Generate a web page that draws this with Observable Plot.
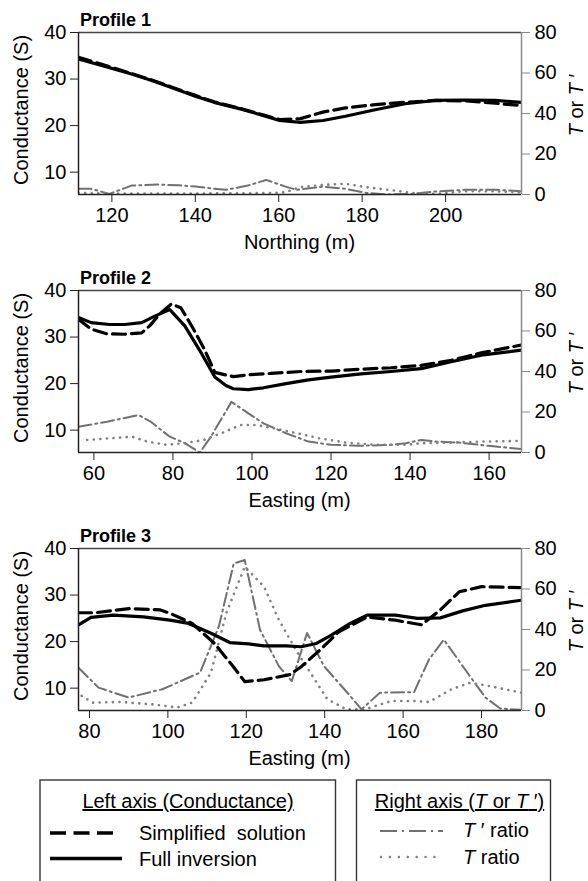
<!DOCTYPE html>
<html><head><meta charset="utf-8">
<script src="https://cdn.jsdelivr.net/npm/d3@7"></script>
<script src="https://cdn.jsdelivr.net/npm/@observablehq/plot@0.6"></script>
<style>
body{margin:0;background:#fff;font-family:"Liberation Sans",Arial,sans-serif;}
#chart{width:588px;height:881px;overflow:hidden;}
#chart svg{display:block;}
</style></head><body><div id="chart"></div><script>
// ---------- data ----------
const panelTitles = ["Profile 1", "Profile 2", "Profile 3"];
const xTitles = ["Northing (m)", "Easting (m)", "Easting (m)"];
const xDomains = [[112, 218.2], [56.1, 168.2], [77.2, 190.2]];
const xTickLabels = [[120, 140, 160, 180, 200], [60, 80, 100, 120, 140, 160], [80, 100, 120, 140, 160, 180]];
const leftTicks = [10, 20, 30, 40];
const rightTicks = [0, 20, 40, 60, 80];
const condDomain = [5.2, 40];
const ratioDomain = [0, 80];

// Profile 1: [northing, conductance] and [northing, ratio]
const p1Simplified = [[112,34.7],[120.3,32.4],[124.7,31.2],[129.2,29.9],[134.6,28.2],[140,26.5],[144.5,25.1],[150.8,23.7],[156.2,22.3],[160.2,21.3],[165.2,21.5],[170.6,22.9],[176,23.8],[183.1,24.5],[190.3,25.0],[197.5,25.4],[204.7,25.3],[211.9,24.8],[218.2,24.3]];
const p1Full = [[112,34.3],[120.3,32.2],[124.7,31.1],[129.2,29.8],[134.6,28.1],[140,26.3],[144.5,25.0],[150.8,23.6],[156.2,22.2],[160.2,21.1],[165.2,20.7],[170.6,21.1],[176,22.0],[183.1,23.4],[190.3,24.7],[197.5,25.4],[204.7,25.5],[211.9,25.4],[218.2,25.0]];
const p1TPrime = [[112,2.8],[115,2.8],[119.4,0.3],[124.7,4.4],[131,4.9],[136,4.6],[140,3.9],[147.2,2.3],[152.6,4.4],[157,7.2],[161.6,3.9],[164.3,2.3],[170.5,3.9],[176,2.8],[181.3,0.7],[186,0],[192,0.3],[197.5,1.5],[204.7,2.3],[212,2.3],[218.2,1.6]];
const p1T = [[112,0.7],[120,0.5],[130,0.5],[140,0.5],[150,0.6],[158,0.7],[161.6,1.1],[165,3.6],[171,4.8],[176,5.3],[181,3.6],[187.5,2.0],[192,0.7],[197.5,0.3],[204.7,1.6],[212,1.6],[218.2,1.1]];

// Profile 2
const p2Simplified = [[56.1,33.8],[59.3,31.7],[63.3,30.7],[67.8,30.6],[72.1,30.9],[74.1,32.4],[76.6,34.9],[79.6,37.1],[82,36.3],[85,32.0],[88,27.3],[90.6,22.4],[95.3,21.5],[99.1,21.9],[104.8,22.2],[112.4,22.6],[120,22.7],[127.6,23.1],[135.2,23.4],[142.8,23.9],[150.4,25.0],[158,26.6],[168.2,28.3]];
const p2Full = [[56.1,34.2],[59.3,33.1],[64,32.7],[67.8,32.7],[72.1,33.1],[75.4,34.5],[79.2,35.9],[83,32.4],[86.8,27.1],[90.6,21.4],[93.4,19.6],[95.3,18.9],[99.1,18.7],[102.9,19.1],[108.6,20.0],[114.3,20.8],[120,21.4],[127.6,22.1],[135.2,22.6],[142.8,23.2],[150.4,24.7],[158,26.1],[168.2,27.2]];
const p2TPrime = [[56.1,12.7],[63.3,15.2],[71.3,18.5],[74.4,15.2],[79.2,7.8],[83,4.6],[86.8,0],[89.6,7.8],[94.8,25.0],[99.1,19.3],[102.9,14.4],[108.6,9.5],[114.3,5.4],[120,3.8],[127.6,3.3],[135.2,3.8],[139,4.6],[142.8,6.2],[146.6,5.4],[152.3,4.9],[159.9,3.3],[168.2,1.7]];
const p2T = [[58.3,6.2],[64,7.0],[69.7,7.8],[73.5,5.4],[78.3,3.8],[83,4.6],[87.8,6.2],[92.6,9.8],[97.2,13.6],[101,13.6],[105.7,11.9],[111.4,9.5],[117.1,7.0],[123.8,4.9],[131.4,3.8],[139,3.8],[142.8,4.6],[150.4,4.9],[158,5.4],[168.2,5.7]];

// Profile 3
const p3Simplified = [[77.2,26.2],[81.5,26.2],[90.1,27.1],[98.1,26.8],[100.5,26.1],[106.2,23.9],[111.9,19.6],[116.7,14.6],[119.6,11.4],[124.5,11.8],[131.1,12.9],[134,14.6],[138.8,18.2],[143.6,22.1],[150.8,25.3],[158,24.6],[164.7,23.6],[169.5,26.8],[174.3,30.7],[180,31.8],[190.2,31.6]];
const p3Full = [[77.2,23.6],[80.4,25.2],[86.1,25.7],[93.8,25.3],[100.5,24.6],[105.3,23.9],[111,21.8],[115.8,19.8],[120.6,19.5],[124.5,19.1],[130.2,19.1],[134,18.9],[137.9,19.6],[141.7,21.4],[146.5,23.9],[150.8,25.7],[158,25.7],[163.7,25.0],[169.5,25.1],[175.2,26.6],[181,27.8],[190.2,28.9]];
const p3TPrime = [[77.2,21.1],[82.3,11.3],[90,6.4],[98.6,10.5],[108.2,18.7],[113,41.5],[116.8,72.6],[119.6,74.3],[123.5,39.9],[128.3,21.9],[131.6,14.5],[135.5,38.3],[139.8,21.9],[146.5,7.2],[149.4,0.6],[154.1,8.8],[162.8,9.1],[166.6,25.2],[170.4,35.0],[175.2,21.9],[181,6.4],[184.8,1.0],[190.2,0.3]];
const p3T = [[78,7.2],[80.9,3.9],[88,4.2],[95.7,3.1],[102.4,1.5],[106.2,3.9],[111,18.7],[114.9,48.1],[119.6,71.0],[124.5,61.2],[128.3,44.8],[133.1,28.5],[136.9,17.0],[140.7,5.5],[145.5,0.6],[150.3,0.6],[157,4.7],[162.8,4.7],[166.6,4.2],[172.3,10.5],[177.1,13.7],[181.9,12.1],[190.2,8.8]];

const simplifiedSeries = [p1Simplified, p2Simplified, p3Simplified];
const fullSeries = [p1Full, p2Full, p3Full];
const tPrimeSeries = [p1TPrime, p2TPrime, p3TPrime];
const tSeries = [p1T, p2T, p3T];

// ---------- drawing ----------
const FONT = '"Liberation Sans", Arial, sans-serif';
const toLeft = t => condDomain[0] + (t - ratioDomain[0]) * (condDomain[1] - condDomain[0]) / (ratioDomain[1] - ratioDomain[0]);
const toRight = c => ratioDomain[0] + (c - condDomain[0]) * (ratioDomain[1] - ratioDomain[0]) / (condDomain[1] - condDomain[0]);

const W = 588, H = 258, ML = 78, MR = 67, MT = 32, MB = 64;
const TICK_FS = 20, TITLE_FS = 20;
const chart = document.getElementById("chart");

for (let i = 0; i < 3; i++) {
  const xd = xDomains[i];
  const svg = Plot.plot({
    width: W, height: H, marginLeft: ML, marginRight: MR, marginTop: MT, marginBottom: MB,
    style: {fontFamily: FONT, fontSize: TICK_FS + "px", color: "#000", background: "#fff", overflow: "visible"},
    x: {domain: xd},
    y: {domain: condDomain},
    marks: [
      Plot.line(tPrimeSeries[i], {x: d => d[0], y: d => toLeft(d[1]), stroke: "#707070", strokeWidth: 2, strokeDasharray: "13,4,2,4", clip: true}),
      Plot.line(tSeries[i], {x: d => d[0], y: d => toLeft(d[1]), stroke: "#808080", strokeWidth: 2.6, strokeDasharray: "0.1,6.5", strokeLinecap: "round", clip: true}),
      Plot.line(simplifiedSeries[i], {x: d => d[0], y: d => d[1], stroke: "#000", strokeWidth: 3.2, strokeDasharray: "13,6", clip: true}),
      Plot.line(fullSeries[i], {x: d => d[0], y: d => d[1], stroke: "#000", strokeWidth: 3.2, clip: true}),
      Plot.ruleY([condDomain[1]], {stroke: "#444", strokeWidth: 1.5}),
      Plot.ruleY([condDomain[0]], {stroke: "#222", strokeWidth: 1.5}),
      Plot.ruleX([xd[1]], {stroke: "#888", strokeWidth: 1.5}),
      Plot.ruleX([xd[0]], {stroke: "#222", strokeWidth: 1.5}),
      Plot.axisY(leftTicks, {anchor: "left", tickSize: 8, tickPadding: 4, label: null, stroke: "#222", fontSize: TICK_FS}),
      Plot.axisY(rightTicks.map(toLeft), {anchor: "right", tickSize: 8, tickPadding: 5, label: null, stroke: "#888", fontSize: TICK_FS, tickFormat: d => String(Math.round(toRight(d)))}),
      Plot.axisX(xTickLabels[i], {anchor: "bottom", tickSize: 8, tickPadding: 5, label: null, stroke: "#222", fontSize: TICK_FS})
    ]
  });
  const s = d3.select(svg);
  const midY = MT + (H - MT - MB) / 2;
  s.append("text").attr("x", 80).attr("y", 26).attr("text-anchor", "start").attr("font-weight", "bold").attr("font-size", 18).attr("fill", "#000").text(panelTitles[i]);
  s.append("text").attr("transform", `translate(28,${midY - 3}) rotate(-90)`).attr("text-anchor", "middle").attr("font-size", TITLE_FS).attr("fill", "#000").text("Conductance (S)");
  const r = s.append("text").attr("transform", `translate(583,${midY - 8}) rotate(-90)`).attr("text-anchor", "middle").attr("font-size", TITLE_FS).attr("fill", "#000");
  r.append("tspan").attr("font-style", "italic").text("T");
  r.append("tspan").text(" or ");
  r.append("tspan").attr("font-style", "italic").text("T");
  r.append("tspan").text(" \u2032");
  s.append("text").attr("x", ML + (W - ML - MR) / 2).attr("y", 249).attr("text-anchor", "middle").attr("font-size", TITLE_FS).attr("fill", "#000").text(xTitles[i]);
  chart.appendChild(svg);
}

// ---------- legend ----------
const LFS = 20;
const lg = d3.select(chart).append("svg").attr("width", W).attr("height", 107).style("font-family", FONT).style("display", "block");
lg.append("rect").attr("x", 40).attr("y", 6).attr("width", 295.5).attr("height", 200).attr("fill", "none").attr("stroke", "#333").attr("stroke-width", 1.4);
lg.append("rect").attr("x", 356.5).attr("y", 6).attr("width", 194).attr("height", 200).attr("fill", "none").attr("stroke", "#333").attr("stroke-width", 1.4);
lg.append("text").attr("x", 188).attr("y", 34).attr("text-anchor", "middle").attr("font-size", LFS).style("text-decoration", "underline").text("Left axis (Conductance)");
lg.append("line").attr("x1", 50).attr("x2", 113).attr("y1", 59).attr("y2", 59).attr("stroke", "#000").attr("stroke-width", 3.4).attr("stroke-dasharray", "16,7.5");
lg.append("text").attr("x", 139).attr("y", 66).attr("font-size", LFS).attr("xml:space", "preserve").style("white-space", "pre").text("Simplified  solution");
lg.append("line").attr("x1", 50).attr("x2", 122).attr("y1", 84.5).attr("y2", 84.5).attr("stroke", "#000").attr("stroke-width", 3.4);
lg.append("text").attr("x", 139).attr("y", 92).attr("font-size", LFS).text("Full inversion");
const rt = lg.append("text").attr("x", 459.5).attr("y", 34).attr("text-anchor", "middle").attr("font-size", LFS).style("text-decoration", "underline");
rt.append("tspan").text("Right axis (");
rt.append("tspan").attr("font-style", "italic").text("T");
rt.append("tspan").text(" or ");
rt.append("tspan").attr("font-style", "italic").text("T");
rt.append("tspan").text(" \u2032)");
lg.append("line").attr("x1", 380).attr("x2", 443).attr("y1", 57).attr("y2", 57).attr("stroke", "#707070").attr("stroke-width", 2).attr("stroke-dasharray", "17,5,2,5");
const t1 = lg.append("text").attr("x", 463).attr("y", 63).attr("font-size", LFS);
t1.append("tspan").attr("font-style", "italic").text("T");
t1.append("tspan").text(" \u2032 ratio");
lg.append("line").attr("x1", 381).attr("x2", 443).attr("y1", 83).attr("y2", 83).attr("stroke", "#808080").attr("stroke-width", 2.4).attr("stroke-dasharray", "0.1,8.8").attr("stroke-linecap", "round");
const t2 = lg.append("text").attr("x", 463).attr("y", 90).attr("font-size", LFS);
t2.append("tspan").attr("font-style", "italic").text("T");
t2.append("tspan").text(" ratio");
</script></body></html>
